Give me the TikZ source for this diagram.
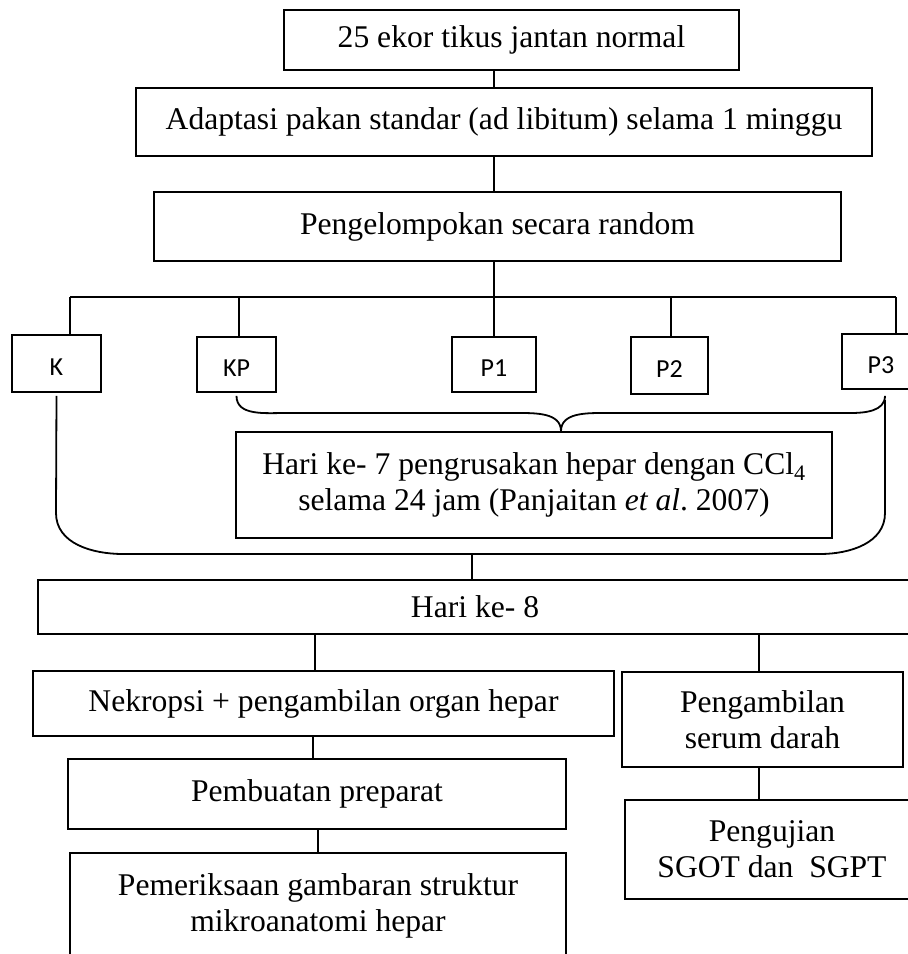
\documentclass[tikz,border=0pt]{standalone}
\usepackage{fontspec}
\setmainfont{Liberation Serif}
\newfontfamily\grpfont{Carlito}
\usetikzlibrary{calc}
\newcommand{\bodysize}{\fontsize{31.6}{36}\selectfont}
\tikzset{box/.style={draw, line width=1.8pt, inner sep=0pt, align=center, font=\bodysize},
grp/.style={draw, line width=1.8pt, inner sep=0pt, text height=24pt, text depth=0pt, font=\grpfont\fontsize{26}{30}\selectfont},
%connectors and braces
link/.style={line width=1.8pt}}

\begin{document}
\begin{tikzpicture}[x=1pt,y=-1pt]
 \useasboundingbox (0,0) rectangle (908,954);
 \clip (0,0) rectangle (908,954);

 %Top of the chart
 \node[box, minimum width=455pt, minimum height=60pt] (tikus) at (511.5,40) {25 ekor tikus jantan normal};
 \node[box, minimum width=736pt, minimum height=68pt] (adapt) at (504,122) {Adaptasi pakan standar (ad libitum) selama 1 minggu};
 \node[box, minimum width=687pt, minimum height=69pt] (rnd) at (497.5,226.5) {Pengelompokan secara random};

 \coordinate (trunk) at (494,0);
 \draw[link] (tikus.south -| trunk) -- (adapt.north -| trunk);
 \draw[link] (adapt.south -| trunk) -- (rnd.north -| trunk);
 \draw[link] (rnd.south -| trunk) -- (trunk |- 0,297);

 %Groups
 \node[grp, minimum width=89pt, minimum height=57pt] (K) at (56.5,363.5) {K};
 \node[grp, minimum width=79pt, minimum height=55pt] (KP) at (236.5,364.5) {KP};
 \node[grp, minimum width=84pt, minimum height=55pt] (P1) at (494,364.5) {P1};
 \node[grp, minimum width=77pt, minimum height=57pt] (P2) at (669.5,365.5) {P2};
 \node[grp, minimum width=78pt, minimum height=55pt] (P3) at (881,361.5) {P3};

 \coordinate (barL) at (70,297);
 \coordinate (barR) at (896,297);
 \draw[link] (barL) -- (barR);
 \foreach \g/\x in {K/70,KP/239,P1/494,P2/671,P3/896}
  \draw[link] (\x,297) -- (\x,0 |- \g.north);

 %Day 7
 \node[box, minimum width=596pt, minimum height=106pt] (hk7) at (534,485) {Hari ke- 7 pengrusakan hepar dengan CCl\textsubscript{4}\\selama 24 jam (Panjaitan \textit{et al}.\ 2007)};
 \coordinate (tip) at ($(hk7.north)+(27,0)$);
 \draw[link] ([yshift=-3pt]KP.south) to[out=-90,in=180] (285,413) -- (518,413) to[out=0,in=90] (tip)
  to[out=90,in=180] (604,413) -- (850,413) to[out=0,in=-90] ([xshift=4pt,yshift=-6pt]P3.south);

 %Day 8
 \node[box, minimum width=874pt, minimum height=54pt] (hk8) at (475,607) {Hari ke- 8};
 \draw[link] ([yshift=-3pt]K.south) -- (56,513) to[out=-90,in=180] (123,554) -- (820,554)
  to[out=0,in=-90] (885,513) -- (885,400);
 \coordinate (bigtip) at (472,554);
 \draw[link] (bigtip) -- (bigtip |- hk8.north);

 %Left branch
 \node[box, minimum width=581pt, minimum height=65pt] (nek) at (323.5,703.5) {Nekropsi + pengambilan organ hepar};
 \node[box, minimum width=498pt, minimum height=70pt] (pemb) at (317,794) {Pembuatan preparat};
 \node[box, minimum width=496pt, minimum height=105pt] (periksa) at (318,905.5) {Pemeriksaan gambaran struktur\\mikroanatomi hepar};

 %Right branch
 \node[box, minimum width=281pt, minimum height=95pt] (serum) at (762.5,719.5) {Pengambilan\\serum darah};
 \node[box, minimum width=294pt, minimum height=99pt] (uji) at (772,849.5) {Pengujian\\SGOT dan\ \ SGPT};

 \draw[link] (315,0 |- hk8.south) -- (315,0 |- nek.north);
 \draw[link] (759,0 |- hk8.south) -- (759,0 |- serum.north);
 \draw[link] (313,0 |- nek.south) -- (313,0 |- pemb.north);
 \draw[link] (318,0 |- pemb.south) -- (318,0 |- periksa.north);
 \draw[link] (759,0 |- serum.south) -- (759,0 |- uji.north);

\end{tikzpicture}
\end{document}
